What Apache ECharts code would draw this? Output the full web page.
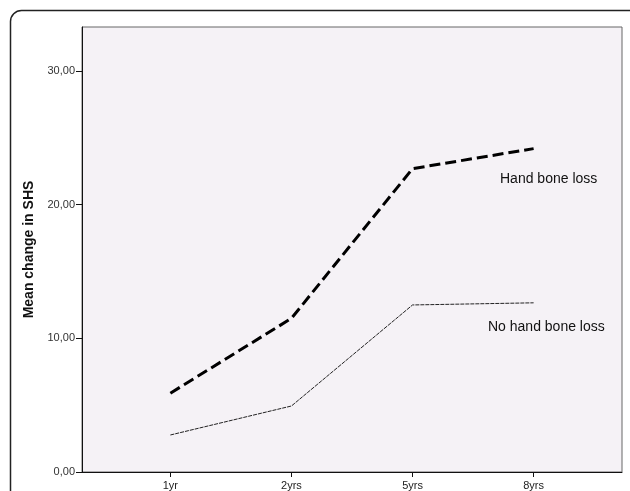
<!DOCTYPE html>
<html>
<head>
<meta charset="utf-8">
<script src="https://cdn.jsdelivr.net/npm/echarts@6/dist/echarts.min.js"></script>
<style>
html,body{margin:0;padding:0;background:#fff;}
#c{width:630px;height:491px;}
</style>
</head>
<body>
<div id="c"></div>
<script>
var categories = ['1yr', '2yrs', '5yrs', '8yrs'];
var handBoneLoss = [5.9, 11.5, 22.7, 24.2];
var noHandBoneLoss = [2.77, 4.94, 12.5, 12.66];
var yTicks = [0, 10, 20, 30];
var seriesNames = ['Hand bone loss', 'No hand bone loss'];

function toPairs(arr) { return arr.map(function (v, i) { return [i, v]; }); }
var xIdx = categories.map(function (c, i) { return i; });
var font = 'Liberation Sans, Arial, sans-serif';

var chart = echarts.init(document.getElementById('c'));
chart.setOption({
  animation: false,
  backgroundColor: '#ffffff',
  grid: {
    left: 82, top: 27, right: 8, bottom: 19,
    show: true, backgroundColor: '#f5f2f6', borderColor: '#666', borderWidth: 1
  },
  xAxis: {
    type: 'value', min: -0.73, max: 3.73,
    splitLine: { show: false },
    axisLine: { show: true, onZero: false, lineStyle: { color: '#111', width: 1 } },
    axisTick: { show: true, length: 5, customValues: xIdx, lineStyle: { color: '#111' } },
    axisLabel: {
      customValues: xIdx, margin: 8, fontSize: 11, color: '#222', fontFamily: font,
      formatter: function (v) { return categories[Math.round(v)]; }
    }
  },
  yAxis: {
    type: 'value', min: 0, max: 33.3,
    name: 'Mean change in SHS', nameLocation: 'middle', nameGap: 44,
    nameTextStyle: { fontSize: 14, fontWeight: 'bold', color: '#111', fontFamily: font },
    splitLine: { show: false },
    axisLine: { show: true, onZero: false, lineStyle: { color: '#111', width: 1 } },
    axisTick: { show: true, length: 6, customValues: yTicks, lineStyle: { color: '#111' } },
    axisLabel: {
      customValues: yTicks, margin: 7, fontSize: 11, color: '#333', fontFamily: font,
      formatter: function (v) { return v.toFixed(2).replace('.', ','); }
    }
  },
  series: [
    {
      name: seriesNames[0], type: 'line', data: toPairs(handBoneLoss),
      symbol: 'none', lineStyle: { color: '#000', width: 3, type: [11, 5] }
    },
    {
      name: seriesNames[1], type: 'line', data: toPairs(noHandBoneLoss),
      symbol: 'none', lineStyle: { color: '#222', width: 1, type: [4, 1] }
    }
  ],
  graphic: [
    { type: 'rect', shape: { x: 10.5, y: 10.5, width: 640, height: 500, r: 11 },
      style: { fill: 'none', stroke: '#222', lineWidth: 1.5 }, z: 100 },
    { type: 'text', left: 500, top: 172, style: { text: seriesNames[0], fontSize: 14, fill: '#111', fontFamily: font } },
    { type: 'text', left: 488, top: 320, style: { text: seriesNames[1], fontSize: 14, fill: '#111', fontFamily: font } }
  ]
});
</script>
</body>
</html>
